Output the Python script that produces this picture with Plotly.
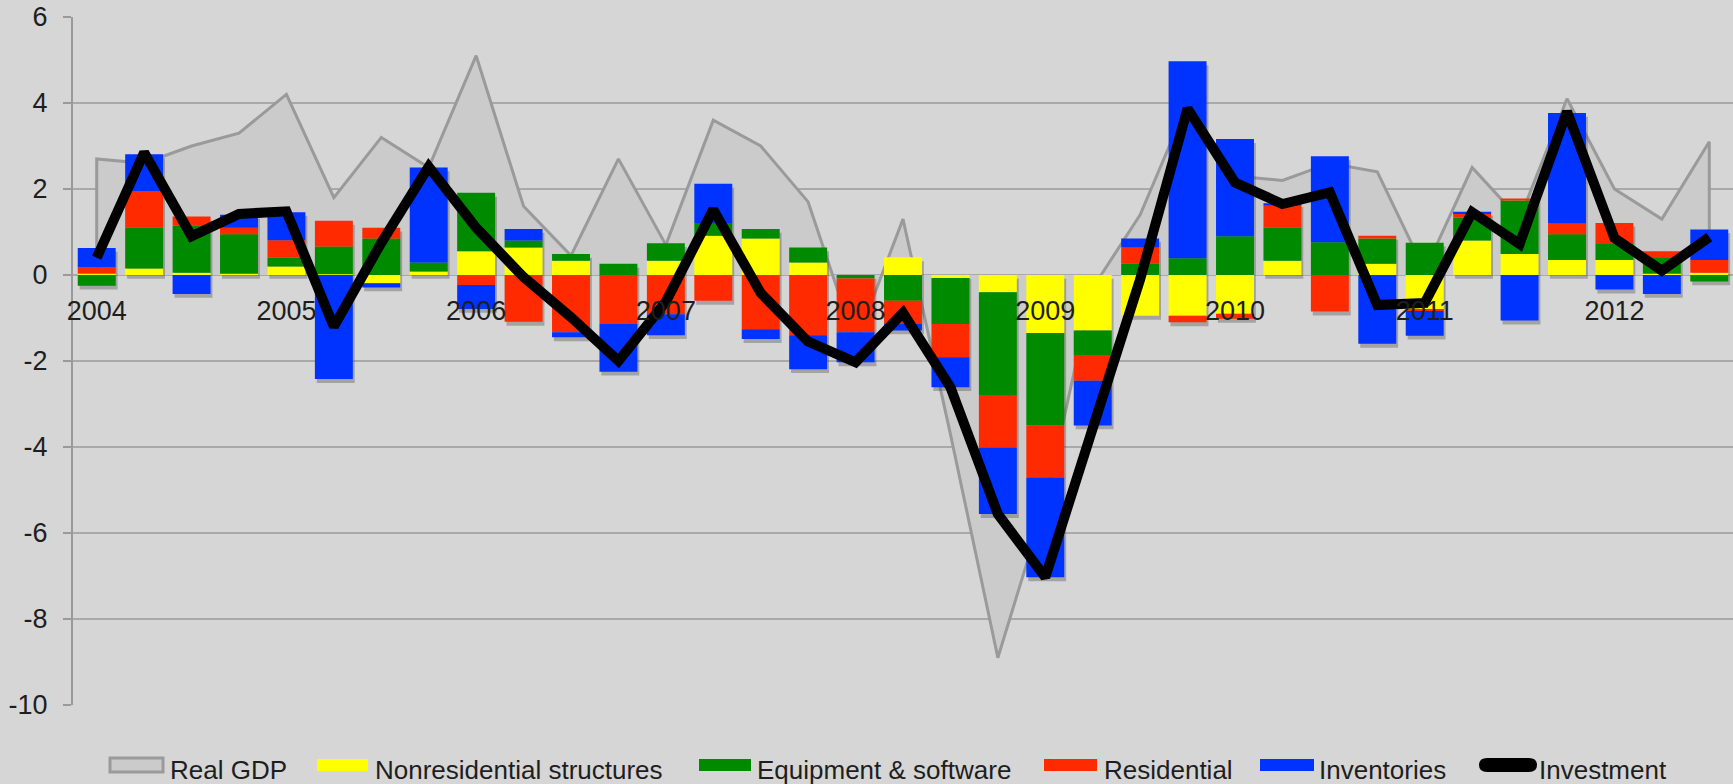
import plotly.graph_objects as go

# Quarterly contributions to real GDP growth, 2004Q1 - 2012Q3 (percentage points)
quarters = [f"{y}Q{q}" for y in range(2004, 2013) for q in range(1, 5)][:35]
year_ticks = ["2004Q1", "2005Q1", "2006Q1", "2007Q1", "2008Q1",
              "2009Q1", "2010Q1", "2011Q1", "2012Q1"]
year_labels = ["2004", "2005", "2006", "2007", "2008", "2009", "2010", "2011", "2012"]
y_ticks = [-10, -8, -6, -4, -2, 0, 2, 4, 6]
y_labels = ["-10", "-8", "-6", "-4", "-2", "0", "2", "4", "6"]

real_gdp = [2.7, 2.6, 3.0, 3.3, 4.2, 1.8, 3.2, 2.5, 5.1, 1.6, 0.45, 2.7,
            0.7, 3.6, 3.0, 1.7, -1.6, 1.3, -3.7, -8.9, -5.3, -0.3, 1.4, 4.0,
            2.3, 2.2, 2.6, 2.4, 0.1, 2.5, 1.3, 4.1, 2.0, 1.3, 3.1]

nonres_structures = [0.03, 0.15, 0.05, 0.03, 0.20, 0.02, -0.19, 0.08, 0.55, 0.64, 0.33, 0.00,
                     0.33, 0.91, 0.85, 0.29, 0.00, 0.41, -0.07, -0.40, -1.35, -1.29, -0.95, -0.95,
                     -0.90, 0.33, 0.00, 0.26, -0.79, 0.80, 0.49, 0.35, 0.35, 0.03, 0.05]

equipment_software = [-0.25, 0.95, 1.10, 0.92, 0.20, 0.64, 0.85, 0.21, 1.36, 0.16, 0.16, 0.26,
                      0.41, 0.28, 0.22, 0.35, -0.08, -0.60, -1.07, -2.41, -2.15, -0.57, 0.26, 0.39,
                      0.90, 0.77, 0.76, 0.59, 0.75, 0.54, 1.24, 0.60, 0.39, 0.38, -0.15]

residential = [0.15, 0.85, 0.21, 0.15, 0.41, 0.60, 0.25, 0.00, -0.23, -1.09, -1.33, -1.14,
               -0.91, -0.60, -1.26, -1.40, -1.25, -0.54, -0.77, -1.20, -1.21, -0.60, 0.38, -0.15,
               -0.12, 0.51, -0.85, 0.06, -0.05, 0.08, 0.05, 0.25, 0.47, 0.14, 0.30]

inventories = [0.45, 0.86, -0.44, 0.30, 0.65, -2.42, -0.10, 2.21, -0.56, 0.27, -0.12, -1.11,
               -0.49, 0.93, -0.23, -0.79, -0.70, -0.15, -0.70, -1.55, -2.32, -1.04, 0.21, 4.58,
               2.26, 0.06, 2.00, -1.60, -0.57, 0.05, -1.06, 2.57, -0.34, -0.44, 0.71]

investment = [0.40, 2.85, 0.90, 1.42, 1.48, -1.20, 0.75, 2.52, 1.10, -0.05, -0.98, -2.00,
              -0.62, 1.52, -0.42, -1.55, -2.03, -0.88, -2.61, -5.56, -7.03, -3.50, -0.10, 3.87,
              2.15, 1.65, 1.92, -0.70, -0.65, 1.46, 0.72, 3.80, 0.86, 0.10, 0.88]

FONT = "Liberation Sans, Arial, sans-serif"
TEXT = "#1e1e1e"
BG = "#d6d6d6"
GRID = "#a9a9a9"
GDP_FILL = "#cbcbcb"
GDP_LINE = "#9a9a9a"

bar_series = [
    ("Nonresidential structures", nonres_structures, "#ffff00"),
    ("Equipment & software", equipment_software, "#008a00"),
    ("Residential", residential, "#ff2a00"),
    ("Inventories", inventories, "#0033ff"),
]

# figure geometry (px)
W, H = 1733, 784
ML, MR, MT, MB = 73, 0, 17, 79
PW, PH = W - ML - MR, H - MT - MB


def px_x(X):
    return (X - ML) / PW


def px_y(Y):
    return (H - MB - Y) / PH


fig = go.Figure()

# Real GDP: closed grey area on the base axis, behind the bars
fig.add_trace(go.Scatter(
    x=[quarters[0]] + quarters + [quarters[-1]],
    y=[0] + real_gdp + [0],
    mode="lines", fill="toself", fillcolor=GDP_FILL,
    line=dict(color=GDP_LINE, width=3),
    name="Real GDP", showlegend=False, hoverinfo="skip",
    xaxis="x", yaxis="y",
))

# soft drop shadow under each stacked column
pos_total = [sum(v for v in vals if v > 0) for vals in zip(*[s[1] for s in bar_series])]
neg_total = [sum(v for v in vals if v < 0) for vals in zip(*[s[1] for s in bar_series])]
shadow_drop = 0.09
fig.add_trace(go.Bar(
    x=quarters,
    y=[p - n for p, n in zip(pos_total, neg_total)],
    base=[n - shadow_drop for n in neg_total],
    width=0.8, offset=-0.36,
    marker=dict(color="rgba(70,70,70,0.35)", line=dict(width=0)),
    showlegend=False, hoverinfo="skip",
    xaxis="x", yaxis="y2",
))

for name, values, color in bar_series:
    fig.add_trace(go.Bar(
        x=quarters, y=values, name=name,
        marker=dict(color=color, line=dict(width=0)),
        showlegend=False,
        xaxis="x", yaxis="y2",
    ))

fig.add_trace(go.Scatter(
    x=quarters, y=investment, mode="lines", name="Investment",
    line=dict(color="#000000", width=10),
    showlegend=False,
    xaxis="x", yaxis="y2",
))

# legend row drawn beneath the plot
legend_items = [
    ("Real GDP", "gdp", GDP_FILL, 110, 163, 168),
    ("Nonresidential structures", "bar", "#ffff00", 317, 368, 373),
    ("Equipment & software", "bar", "#008a00", 699, 751, 755),
    ("Residential", "bar", "#ff2a00", 1044, 1097, 1102),
    ("Inventories", "bar", "#0033ff", 1260, 1314, 1317),
    ("Investment", "line", "#000000", 1480, 1536, 1537),
]
shapes, annotations = [], []
sym_top, sym_bot, text_mid = 759, 771, 770
for label, kind, color, x0, x1, tx in legend_items:
    if kind == "gdp":
        shapes.append(dict(type="rect", xref="paper", yref="paper",
                           x0=px_x(x0), x1=px_x(x1), y0=px_y(sym_bot + 1), y1=px_y(sym_top - 1),
                           fillcolor=GDP_FILL, line=dict(color=GDP_LINE, width=3), layer="above"))
    elif kind == "bar":
        shapes.append(dict(type="rect", xref="paper", yref="paper",
                           x0=px_x(x0), x1=px_x(x1), y0=px_y(sym_bot), y1=px_y(sym_top),
                           fillcolor=color, line=dict(width=0), layer="above"))
    else:
        r = (sym_bot - sym_top + 2) / 2
        cy = (sym_top + sym_bot) / 2
        xa, xb = x0 + r, x1 - r
        path = (f"M{px_x(xa)},{px_y(cy - r)} L{px_x(xb)},{px_y(cy - r)} "
                f"Q{px_x(x1 + 1)},{px_y(cy - r)} {px_x(x1 + 1)},{px_y(cy)} "
                f"Q{px_x(x1 + 1)},{px_y(cy + r)} {px_x(xb)},{px_y(cy + r)} "
                f"L{px_x(xa)},{px_y(cy + r)} "
                f"Q{px_x(x0 - 1)},{px_y(cy + r)} {px_x(x0 - 1)},{px_y(cy)} "
                f"Q{px_x(x0 - 1)},{px_y(cy - r)} {px_x(xa)},{px_y(cy - r)} Z")
        shapes.append(dict(type="path", xref="paper", yref="paper", path=path,
                           fillcolor=color, line=dict(width=0), layer="above"))
    annotations.append(dict(text=label, xref="paper", yref="paper",
                            x=px_x(tx), y=px_y(text_mid), xanchor="left", yanchor="middle",
                            showarrow=False, font=dict(family=FONT, size=26, color=TEXT)))

fig.update_layout(
    width=W, height=H,
    margin=dict(l=ML, r=MR, t=MT, b=MB, autoexpand=False),
    paper_bgcolor=BG, plot_bgcolor=BG,
    barmode="relative", bargap=0.2,
    font=dict(family=FONT, size=27, color=TEXT),
    showlegend=False,
    shapes=shapes, annotations=annotations,
    xaxis=dict(
        type="category", categoryorder="array", categoryarray=quarters,
        range=[-0.5, 34.5],
        anchor="free", position=0.625,
        tickmode="array", tickvals=year_ticks, ticktext=year_labels,
        showgrid=False, showline=False, zeroline=False,
        ticks="outside", ticklen=12, tickcolor="rgba(0,0,0,0)",
        tickfont=dict(size=27, family=FONT, color=TEXT),
    ),
    yaxis=dict(
        range=[-10, 6],
        tickmode="array", tickvals=y_ticks, ticktext=y_labels,
        showgrid=True, gridcolor=GRID, gridwidth=2,
        zeroline=True, zerolinecolor=GRID, zerolinewidth=2,
        showline=True, linecolor="#9a9a9a", linewidth=2,
        ticks="outside", ticklen=8, tickcolor="#9a9a9a", tickwidth=2,
        ticklabelstandoff=10,
        tickfont=dict(size=27, family=FONT, color=TEXT),
    ),
    yaxis2=dict(
        range=[-10, 6], overlaying="y", anchor="x", visible=False,
        showgrid=False, zeroline=False,
    ),
)

fig.write_html("out.html")
